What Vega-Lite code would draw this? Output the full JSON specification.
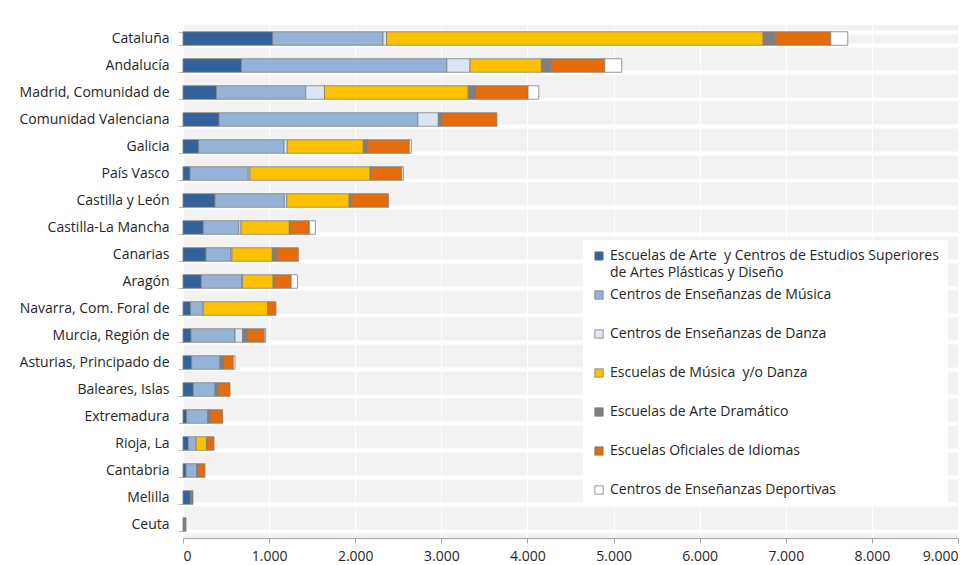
{
  "$schema": "https://vega.github.io/schema/vega-lite/v6.json",
  "width": 775,
  "height": 513,
  "autosize": "none",
  "padding": {"left": 183, "top": 25, "right": 21, "bottom": 27},
  "background": "white",
  "config": {
    "view": {"fill": "#f2f2f2", "stroke": null},
    "font": "Open Sans",
    "style": {"guide-label": {"lineHeight": 17}}
  },
  "data": {
    "values": [
      {"region": "Cataluña", "a": 1042, "b": 1281, "c": 41, "d": 4373, "e": 139, "f": 647, "g": 197},
      {"region": "Andalucía", "a": 678, "b": 2386, "c": 269, "d": 829, "e": 109, "f": 627, "g": 197},
      {"region": "Madrid, Comunidad de", "a": 388, "b": 1037, "c": 218, "d": 1669, "e": 84, "f": 611, "g": 125},
      {"region": "Comunidad Valenciana", "a": 419, "b": 2308, "c": 238, "d": 0, "e": 42, "f": 638, "g": 0},
      {"region": "Galicia", "a": 182, "b": 991, "c": 38, "d": 883, "e": 46, "f": 488, "g": 23},
      {"region": "País Vasco", "a": 81, "b": 677, "c": 20, "d": 1394, "e": 8, "f": 360, "g": 19},
      {"region": "Castilla y León", "a": 372, "b": 805, "c": 28, "d": 724, "e": 31, "f": 425, "g": 0},
      {"region": "Castilla-La Mancha", "a": 236, "b": 411, "c": 27, "d": 561, "e": 8, "f": 224, "g": 70},
      {"region": "Canarias", "a": 267, "b": 287, "c": 15, "d": 468, "e": 51, "f": 244, "g": 8},
      {"region": "Aragón", "a": 213, "b": 469, "c": 8, "d": 357, "e": 12, "f": 197, "g": 73},
      {"region": "Navarra, Com. Foral de", "a": 89, "b": 146, "c": 0, "d": 748, "e": 0, "f": 96, "g": 0},
      {"region": "Murcia, Región de", "a": 93, "b": 511, "c": 89, "d": 0, "e": 58, "f": 193, "g": 16},
      {"region": "Asturias, Principado de", "a": 101, "b": 329, "c": 0, "d": 0, "e": 38, "f": 116, "g": 20},
      {"region": "Baleares, Islas", "a": 120, "b": 252, "c": 0, "d": 0, "e": 38, "f": 136, "g": 0},
      {"region": "Extremadura", "a": 43, "b": 244, "c": 0, "d": 0, "e": 27, "f": 147, "g": 0},
      {"region": "Rioja, La", "a": 62, "b": 89, "c": 0, "d": 124, "e": 8, "f": 77, "g": 0},
      {"region": "Cantabria", "a": 35, "b": 124, "c": 0, "d": 0, "e": 15, "f": 81, "g": 0},
      {"region": "Melilla", "a": 86, "b": 0, "c": 0, "d": 0, "e": 30, "f": 0, "g": 0},
      {"region": "Ceuta", "a": 0, "b": 0, "c": 0, "d": 0, "e": 35, "f": 0, "g": 0}
    ]
  },
  "transform": [
    {"fold": ["a", "b", "c", "d", "e", "f", "g"], "as": ["tipo", "n"]},
    {"filter": "datum.n > 0"}
  ],
  "mark": {"type": "bar", "stroke": "#7f7f7f", "strokeWidth": 0.8},
  "encoding": {
    "y": {
      "field": "region",
      "type": "nominal",
      "sort": null,
      "title": null,
      "scale": {"paddingInner": 0.5, "paddingOuter": 0.25},
      "axis": {
        "labelFontSize": 14,
        "labelColor": "#262626",
        "labelPadding": 9,
        "tickSize": 5,
        "tickColor": "#bfbfbf",
        "domain": false,
        "grid": true,
        "gridColor": "white",
        "gridWidth": 4,
        "tickBand": "extent",
        "bandPosition": 0
      }
    },
    "x": {
      "field": "n",
      "type": "quantitative",
      "aggregate": "sum",
      "stack": "zero",
      "title": null,
      "scale": {"domain": [0, 9000], "nice": false},
      "axis": {
        "values": [0, 1000, 2000, 3000, 4000, 5000, 6000, 7000, 8000, 9000],
        "labelExpr": "replace(format(datum.value, ',d'), ',', '.')",
        "labelFontSize": 14,
        "labelColor": "#262626",
        "labelPadding": 6,
        "tickSize": 5,
        "tickColor": "#a6a6a6",
        "domainColor": "#a6a6a6",
        "gridColor": "white",
        "gridWidth": 1
      }
    },
    "color": {
      "field": "tipo",
      "type": "nominal",
      "sort": ["a", "b", "c", "d", "e", "f", "g"],
      "scale": {
        "domain": ["a", "b", "c", "d", "e", "f", "g"],
        "range": ["#336199", "#95b3d7", "#dce6f2", "#ffc000", "#7f7f7f", "#e46c0a", "#ffffff"]
      },
      "legend": {
        "title": null,
        "orient": "none",
        "legendX": 400,
        "legendY": 215,
        "fillColor": "white",
        "padding": 9,
        "columns": 1,
        "gridAlign": "all",
        "symbolType": "square",
        "symbolSize": 70,
        "symbolOffset": 0,
        "symbolStrokeColor": "#7f7f7f",
        "symbolStrokeWidth": 0.8,
        "labelFontSize": 14,
        "labelOffset": 4,
        "labelColor": "#262626",
        "labelLimit": 400,
        "rowPadding": 8,
        "labelExpr": "datum.label == 'a' ? ['Escuelas de Arte\u00a0 y Centros de Estudios Superiores', 'de Artes Plásticas y Diseño'] : datum.label == 'b' ? 'Centros de Enseñanzas de Música' : datum.label == 'c' ? 'Centros de Enseñanzas de Danza' : datum.label == 'd' ? 'Escuelas de Música\u00a0 y/o Danza' : datum.label == 'e' ? 'Escuelas de Arte Dramático' : datum.label == 'f' ? 'Escuelas Oficiales de Idiomas' : 'Centros de Enseñanzas Deportivas'"
      }
    },
    "order": {"field": "tipo", "sort": "ascending"}
  }
}
